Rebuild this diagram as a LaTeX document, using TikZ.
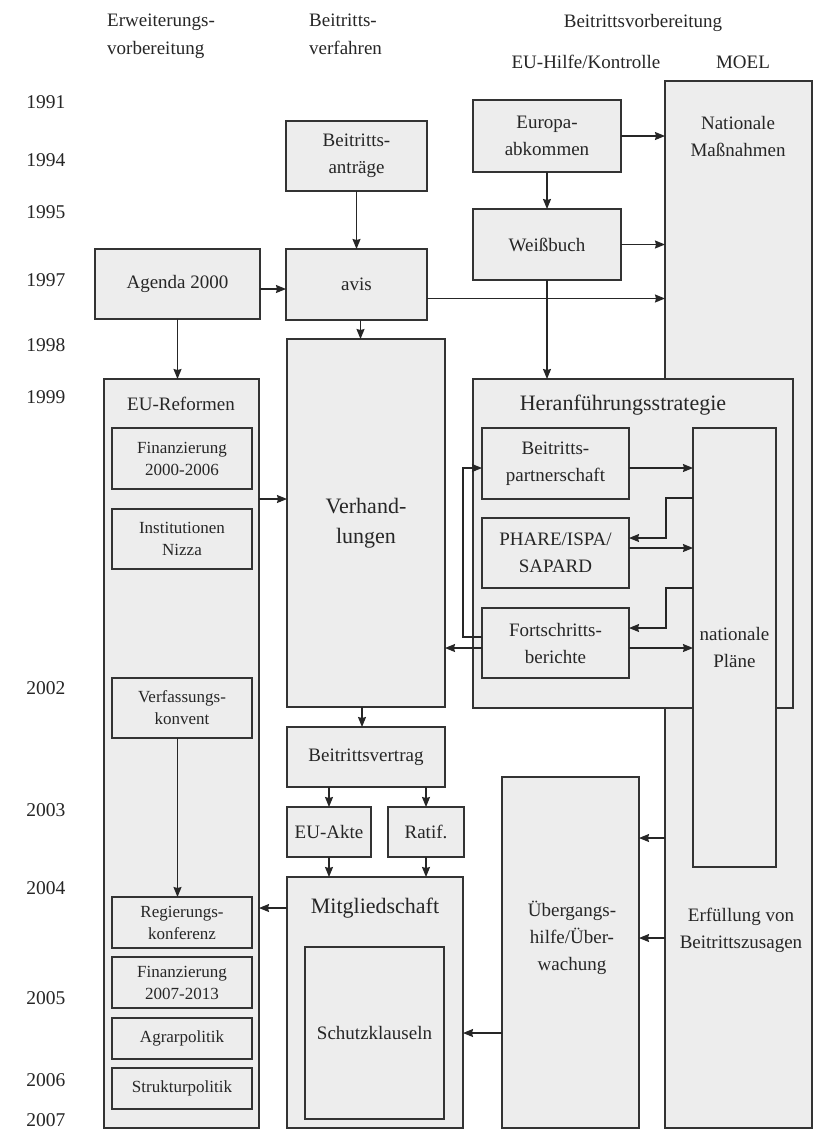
\documentclass[tikz,border=0pt]{standalone}
\usepackage{fontspec}
\setmainfont{Liberation Serif}
\usetikzlibrary{arrows.meta,calc}
\newcommand{\fmain}{\fontsize{19}{27}\selectfont}
\newcommand{\fsmall}{\fontsize{17}{22}\selectfont}
\newcommand{\fbig}{\fontsize{22}{30}\selectfont}
\newcommand{\fhead}{\fontsize{19}{28}\selectfont}
\newcommand{\fyear}{\fontsize{19.5}{22}\selectfont}
\begin{document}
\begin{tikzpicture}[x=1pt,y=-1pt,
  box/.style={draw=black!80, fill=black!7, line width=1.3pt, inner sep=0pt, outer sep=0pt, align=center, text=black!85},
  arr/.style={draw=black!85, line width=1.1pt, -{Stealth[length=10pt,width=8pt,inset=1pt]}},
  lbl/.style={align=center, inner sep=0pt, text=black!85},
  yr/.style={lbl, font=\fyear},
  hd/.style={lbl, font=\fhead},
  mt/.style={font=\fmain},
  sm/.style={font=\fsmall},
  bg/.style={font=\fbig}
]
\useasboundingbox[fill=white] (0,0) rectangle (821,1130);

% headers
\node[hd, align=left, anchor=west] (h1) at (107,36) {Erweiterungs-\\vorbereitung};
\node[hd, align=left, anchor=west] (h2) at (309,34) {Beitritts-\\verfahren};
\node[hd] (h3) at (643,23) {Beitrittsvorbereitung};
\node[hd] (h4) at (586,62) {EU-Hilfe/Kontrolle};
\node[hd] (h5) at (743,62) {MOEL};

% years
\node[yr] (y1) at (46,102) {1991};
\node[yr] (y2) at (46,160) {1994};
\node[yr] (y3) at (46,212) {1995};
\node[yr] (y4) at (46,280) {1997};
\node[yr] (y5) at (46,345) {1998};
\node[yr] (y6) at (46,397) {1999};
\node[yr] (y7) at (46,688) {2002};
\node[yr] (y8) at (46,810) {2003};
\node[yr] (y9) at (46,888) {2004};
\node[yr] (y10) at (46,998) {2005};
\node[yr] (y11) at (46,1080) {2006};
\node[yr] (y12) at (46,1120) {2007};

% MOEL column
\node[box, minimum width=147pt, minimum height=1047pt] (moel) at (738.5,604.5) {};
\node[lbl, mt] (moelt1) at (738,136) {Nationale\\Maßnahmen};
\node[lbl, mt] (moelt2) at (741,930) {Erfüllung von\\Beitrittszusagen};

% Heranfuehrungsstrategie
\node[box, minimum width=320pt, minimum height=329pt] (heranf) at (633,543.5) {};
\node[lbl, bg] (heranft) at (623,405) {Heranführungsstrategie};
\node[box, mt, minimum width=147pt, minimum height=71pt] (bpart) at (555.5,463.5) {Beitritts-\\partnerschaft};
\node[box, mt, minimum width=147pt, minimum height=70pt] (phare) at (555.5,553) {PHARE/ISPA/\\SAPARD};
\node[box, mt, minimum width=147pt, minimum height=70pt] (fort) at (555.5,643) {Fortschritts-\\berichte};
\node[box, mt, minimum width=83pt, minimum height=439pt] (natpl) at (734.5,647.5) {nationale\\Pläne};

% top boxes
\node[box, mt, minimum width=148pt, minimum height=72pt] (europa) at (547,136) {Europa-\\abkommen};
\node[box, mt, minimum width=148pt, minimum height=71pt] (weiss) at (547,244.5) {Weißbuch};
\node[box, mt, minimum width=141pt, minimum height=70pt] (antr) at (356.5,156) {Beitritts-\\anträge};
\node[box, mt, minimum width=141pt, minimum height=71pt] (avis) at (356.5,284.5) {avis};
\node[box, mt, minimum width=165pt, minimum height=70pt] (agenda) at (177.5,284) {Agenda 2000};

% EU-Reformen column
\node[box, minimum width=155pt, minimum height=749pt] (reform) at (181.5,753.5) {};
\node[lbl, mt] (reformt) at (181,404) {EU-Reformen};
\node[box, sm, minimum width=140pt, minimum height=61pt] (fin1) at (182,458.5) {Finanzierung\\2000-2006};
\node[box, sm, minimum width=140pt, minimum height=60pt] (inst) at (182,539) {Institutionen\\Nizza};
\node[box, sm, minimum width=140pt, minimum height=60pt] (verf) at (182,708) {Verfassungs-\\konvent};
\node[box, sm, minimum width=140pt, minimum height=51pt] (regk) at (182,922.5) {Regierungs-\\konferenz};
\node[box, sm, minimum width=140pt, minimum height=51pt] (fin2) at (182,982.5) {Finanzierung\\2007-2013};
\node[box, sm, minimum width=140pt, minimum height=41pt] (agrar) at (182,1038.5) {Agrarpolitik};
\node[box, sm, minimum width=140pt, minimum height=41pt] (struk) at (182,1088.5) {Strukturpolitik};

% Beitrittsverfahren column
\node[box, bg, minimum width=158pt, minimum height=368pt] (verh) at (366,523) {Verhand-\\lungen};
\node[box, mt, minimum width=158pt, minimum height=60pt] (bvert) at (366,757) {Beitrittsvertrag};
\node[box, mt, minimum width=84pt, minimum height=50pt] (euakte) at (329,832) {EU-Akte};
\node[box, mt, minimum width=76pt, minimum height=50pt] (ratif) at (426,832) {Ratif.};
\node[box, minimum width=176pt, minimum height=251pt] (mitgl) at (375,1002.5) {};
\node[lbl, bg] (mitglt) at (375,908) {Mitgliedschaft};
\node[box, mt, minimum width=139pt, minimum height=172pt] (schutz) at (374.5,1033) {Schutzklauseln};

% Uebergang
\node[box, minimum width=137pt, minimum height=351pt] (ueber) at (570.5,952.5) {};
\node[lbl, mt] (uebert) at (572,938) {Übergangs-\\hilfe/Über-\\wachung};

% arrows
\draw[arr] (europa.east) -- (europa.east -| moel.west);
\draw[arr] (weiss.east) -- (weiss.east -| moel.west);
\draw[arr] ([yshift=-14pt]avis.east) -- ([yshift=-14pt]avis.east -| moel.west);
\draw[arr] (europa.south) -- (weiss.north);
\draw[arr] (weiss.south) -- (weiss.south |- heranf.north);
\draw[arr] (antr.south) -- (avis.north);
\draw[arr] ([xshift=4pt]avis.south) -- ([xshift=4pt]avis.south |- verh.north);
\draw[arr] ([yshift=-5pt]agenda.east) -- ([yshift=-5pt]agenda.east -| avis.west);
\draw[arr] (agenda.south) -- (agenda.south |- reform.north);
\draw[arr] ([yshift=24pt]reform.east |- verh.center) -- ([yshift=24pt]verh.west);
\draw[arr] ([yshift=-5pt]fort.west) -- ([yshift=-5pt]fort.west -| verh.east);
\draw[arr] ([yshift=6pt]fort.west) -- ++(-19,0) |- ([yshift=-4.5pt]bpart.west);
\draw[arr] ([yshift=-4.5pt]bpart.east) -- ([yshift=-4.5pt]bpart.east -| natpl.west);
\draw[arr] ([yshift=-70pt]natpl.north west) -- ++(-27,0) |- ([yshift=15pt]phare.east);
\draw[arr] ([yshift=5pt]phare.east) -- ([yshift=5pt]phare.east -| natpl.west);
\draw[arr] ([yshift=-160pt]natpl.north west) -- ++(-27,0) |- ([yshift=15pt]fort.east);
\draw[arr] ([yshift=-5pt]fort.east) -- ([yshift=-5pt]fort.east -| natpl.west);
\draw[arr] ([xshift=-4pt]verh.south) -- ([xshift=-4pt]verh.south |- bvert.north);
\draw[arr] (bvert.south -| euakte.north) -- (euakte.north);
\draw[arr] (bvert.south -| ratif.north) -- (ratif.north);
\draw[arr] (euakte.south) -- (euakte.south |- mitgl.north);
\draw[arr] (ratif.south) -- (ratif.south |- mitgl.north);
\draw[arr] (mitgl.west |- mitglt.center) -- (mitglt.center -| reform.east);
\draw[arr] (verf.south -| agenda.south) -- (regk.north -| agenda.south);
\draw[arr] (ueber.west |- schutz.center) -- (schutz.center -| mitgl.east);
\draw[arr] ($(moel.west |- uebert.center)+(0,-100)$) -- ($(uebert.center -| ueber.east)+(0,-100)$);
\draw[arr] (moel.west |- uebert.center) -- (uebert.center -| ueber.east);
\end{tikzpicture}
\end{document}
